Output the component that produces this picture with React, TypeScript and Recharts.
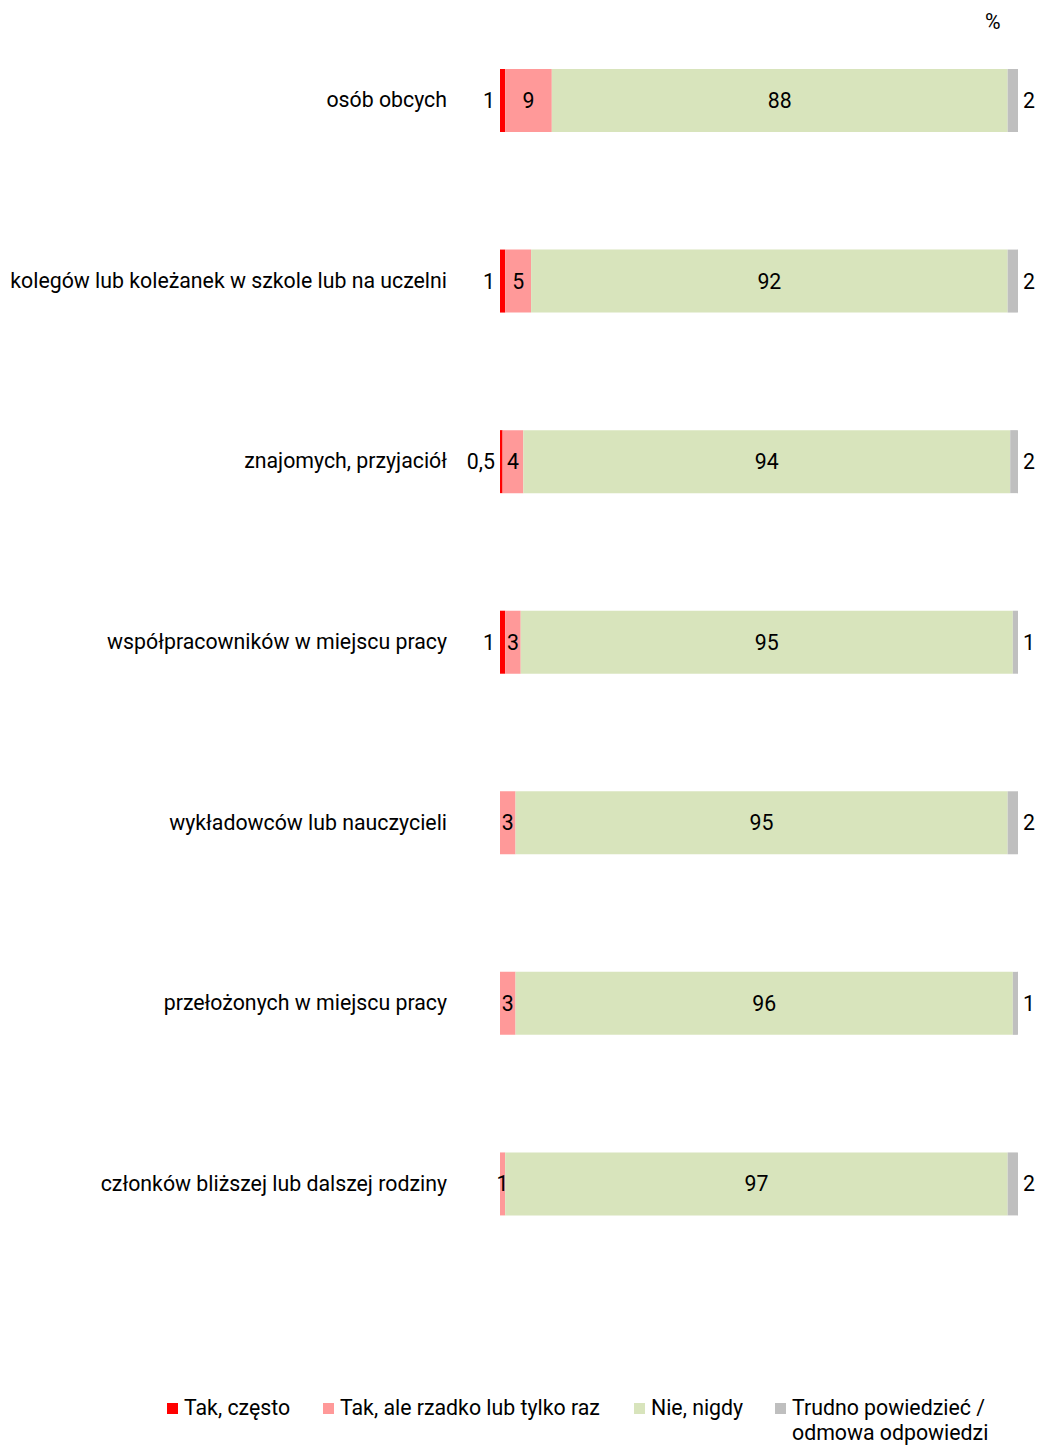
import React from 'react';
import { BarChart, Bar, XAxis, YAxis, LabelList } from 'recharts';

const categories = [
  'osób obcych',
  'kolegów lub koleżanek w szkole lub na uczelni',
  'znajomych, przyjaciół',
  'współpracowników w miejscu pracy',
  'wykładowców lub nauczycieli',
  'przełożonych w miejscu pracy',
  'członków bliższej lub dalszej rodziny',
];
const takCzesto = [1, 1, 0.5, 1, 0, 0, 0];
const takRzadko = [9, 5, 4, 3, 3, 3, 1];
const nieNigdy = [88, 92, 94, 95, 95, 96, 97];
const trudno = [2, 2, 2, 1, 2, 1, 2];

const seriesNames = ['Tak, często', 'Tak, ale rzadko lub tylko raz', 'Nie, nigdy', 'Trudno powiedzieć / odmowa odpowiedzi'];
const colors = ['#FF0000', '#FF9999', '#D8E4BC', '#BFBFBF'];

const data = categories.map((c, i) => ({
  name: c,
  a: takCzesto[i],
  b: takRzadko[i],
  c: nieNigdy[i],
  d: trudno[i],
}));

const FONT = 'Roboto, sans-serif';
const FS = 21.3;
const fmt = (v: any) => (v ? String(v).replace('.', ',') : '');

const CatTick = (props: any) => {
  const { y, payload } = props;
  return (
    <text x={447} y={y} dy={7} textAnchor="end" fontFamily={FONT} fontSize={FS} fill="#000">
      {payload.value}
    </text>
  );
};

const labelStyle = { fontFamily: FONT, fontSize: FS, fill: '#000' } as any;

export default function App() {
  return (
    <div style={{ position: 'absolute', left: 0, top: 0, width: 1039, height: 1446, background: '#fff', fontFamily: FONT }}>
      <div style={{ position: 'absolute', left: 985, top: 9, fontSize: FS, color: '#000' }}>%</div>
      <BarChart
        width={1039}
        height={1290}
        data={data}
        layout="vertical"
        margin={{ top: 10, right: 21, bottom: 16, left: 0 }}
        barCategoryGap={0}
      >
        <XAxis type="number" domain={[0, 100]} allowDataOverflow hide />
        <YAxis
          type="category"
          dataKey="name"
          width={500}
          axisLine={false}
          tickLine={false}
          tick={<CatTick />}
          interval={0}
        />
        <Bar dataKey="a" stackId="s" fill={colors[0]} barSize={63} isAnimationActive={false}>
          <LabelList dataKey="a" position="left" offset={5} formatter={fmt} style={labelStyle} />
        </Bar>
        <Bar dataKey="b" stackId="s" fill={colors[1]} barSize={63} isAnimationActive={false}>
          <LabelList dataKey="b" position="center" formatter={fmt} style={labelStyle} />
        </Bar>
        <Bar dataKey="c" stackId="s" fill={colors[2]} barSize={63} isAnimationActive={false}>
          <LabelList dataKey="c" position="center" formatter={fmt} style={labelStyle} />
        </Bar>
        <Bar dataKey="d" stackId="s" fill={colors[3]} barSize={63} isAnimationActive={false}>
          <LabelList dataKey="d" position="right" offset={5} formatter={fmt} style={labelStyle} />
        </Bar>
      </BarChart>
      {[
        { x: 167, tx: 184 },
        { x: 323, tx: 340 },
        { x: 634, tx: 651 },
        { x: 775, tx: 792 },
      ].map((p, i) => (
        <React.Fragment key={i}>
          <div style={{ position: 'absolute', left: p.x, top: 1403, width: 11, height: 11, background: colors[i] }} />
          <div style={{ position: 'absolute', left: p.tx, top: 1395, fontSize: FS, lineHeight: '25px', color: '#000', width: i === 3 ? 230 : 'auto', whiteSpace: 'nowrap' }}>
            {i === 3 ? (<>Trudno powiedzieć /<br />odmowa odpowiedzi</>) : seriesNames[i]}
          </div>
        </React.Fragment>
      ))}
    </div>
  );
}
